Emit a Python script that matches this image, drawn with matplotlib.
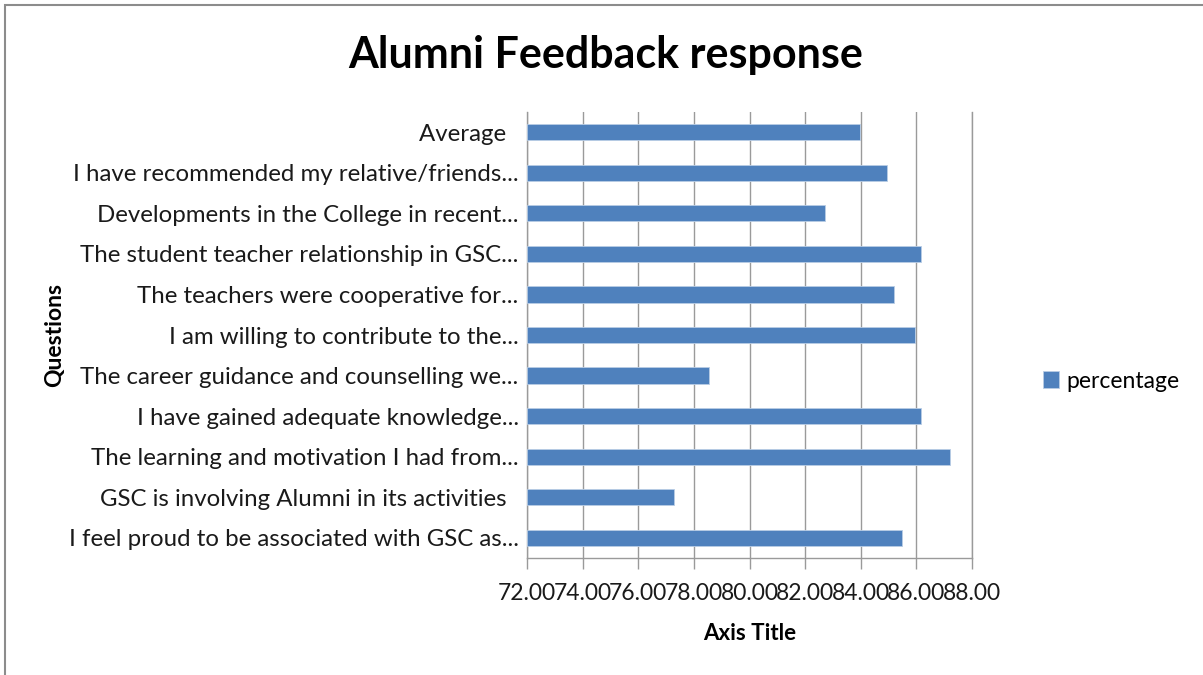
import matplotlib.pyplot as plt
from matplotlib.patches import Rectangle

plt.rcParams['font.family'] = ['Lato', 'DejaVu Sans']

# bottom to top, as drawn in the chart
questions = [
    "I feel proud to be associated with GSC as...",
    "GSC is involving Alumni in its activities  ",
    "The learning and motivation I had from...",
    "I have gained adequate knowledge...",
    "The career guidance and counselling we...",
    "I am willing to contribute to the...",
    "The teachers were cooperative for...",
    "The student teacher relationship in GSC...",
    "Developments in the College in recent...",
    "I have recommended my relative/friends...",
    "Average  ",
]
percentage = [85.47, 77.29, 87.20, 86.17, 78.53, 85.96, 85.19, 86.17, 82.72, 84.94, 83.96]
xticks = [72, 74, 76, 78, 80, 82, 84, 86, 88]

fig = plt.figure(figsize=(12.03, 6.75), dpi=100)
ax = fig.add_axes([527/1203, 1-558/675, 445/1203, 446/675])

pos = range(len(questions))
bars = ax.barh(pos, [p - 72 for p in percentage], left=72, height=0.4,
               color='#4f81bd', edgecolor='#b9cde5', linewidth=0.6,
               label='percentage', zorder=3)

ax.set_xlim(72, 88)
ax.set_ylim(-0.5, len(questions) - 0.5)
ax.set_xticks(xticks)
ax.set_xticklabels(['%.2f' % t for t in xticks])
ax.set_yticks(list(pos))
ax.set_yticklabels(questions)
ax.tick_params(axis='y', length=0, pad=6, labelsize=17.3, labelcolor='#1a1a1a')
ax.tick_params(axis='x', length=8, width=1, color='#9a9a9a', pad=10,
               labelsize=16.5, labelcolor='#1a1a1a')
ax.grid(axis='x', color='#9a9a9a', linewidth=1, zorder=0)
ax.spines['top'].set_visible(False)
for s in ['left', 'bottom', 'right']:
    ax.spines[s].set_color('#9a9a9a')
    ax.spines[s].set_linewidth(1)

ax.set_xlabel('Axis Title', fontsize=16, fontweight='bold', labelpad=14)
fig.text(55/1203, 1-335/675, 'Questions', rotation=90, fontsize=16.5,
         fontweight='bold', ha='center', va='center')
fig.text(606/1203, 1-55/675, 'Alumni Feedback response', fontsize=31,
         fontweight='bold', ha='center', va='center')

leg = fig.legend(handles=[bars], loc='center left',
                 bbox_to_anchor=(1022/1203, 1-381/675), frameon=False,
                 fontsize=16.5, handlelength=0.7, handleheight=0.7,
                 handletextpad=0.35)

# chart frame
fig.patches.append(Rectangle((5/1203, -0.1), 1.2, 1-5/675+0.1,
                             transform=fig.transFigure, fill=False,
                             edgecolor='#8c8c8c', linewidth=1.5))

fig.savefig('out.png', dpi=100)
